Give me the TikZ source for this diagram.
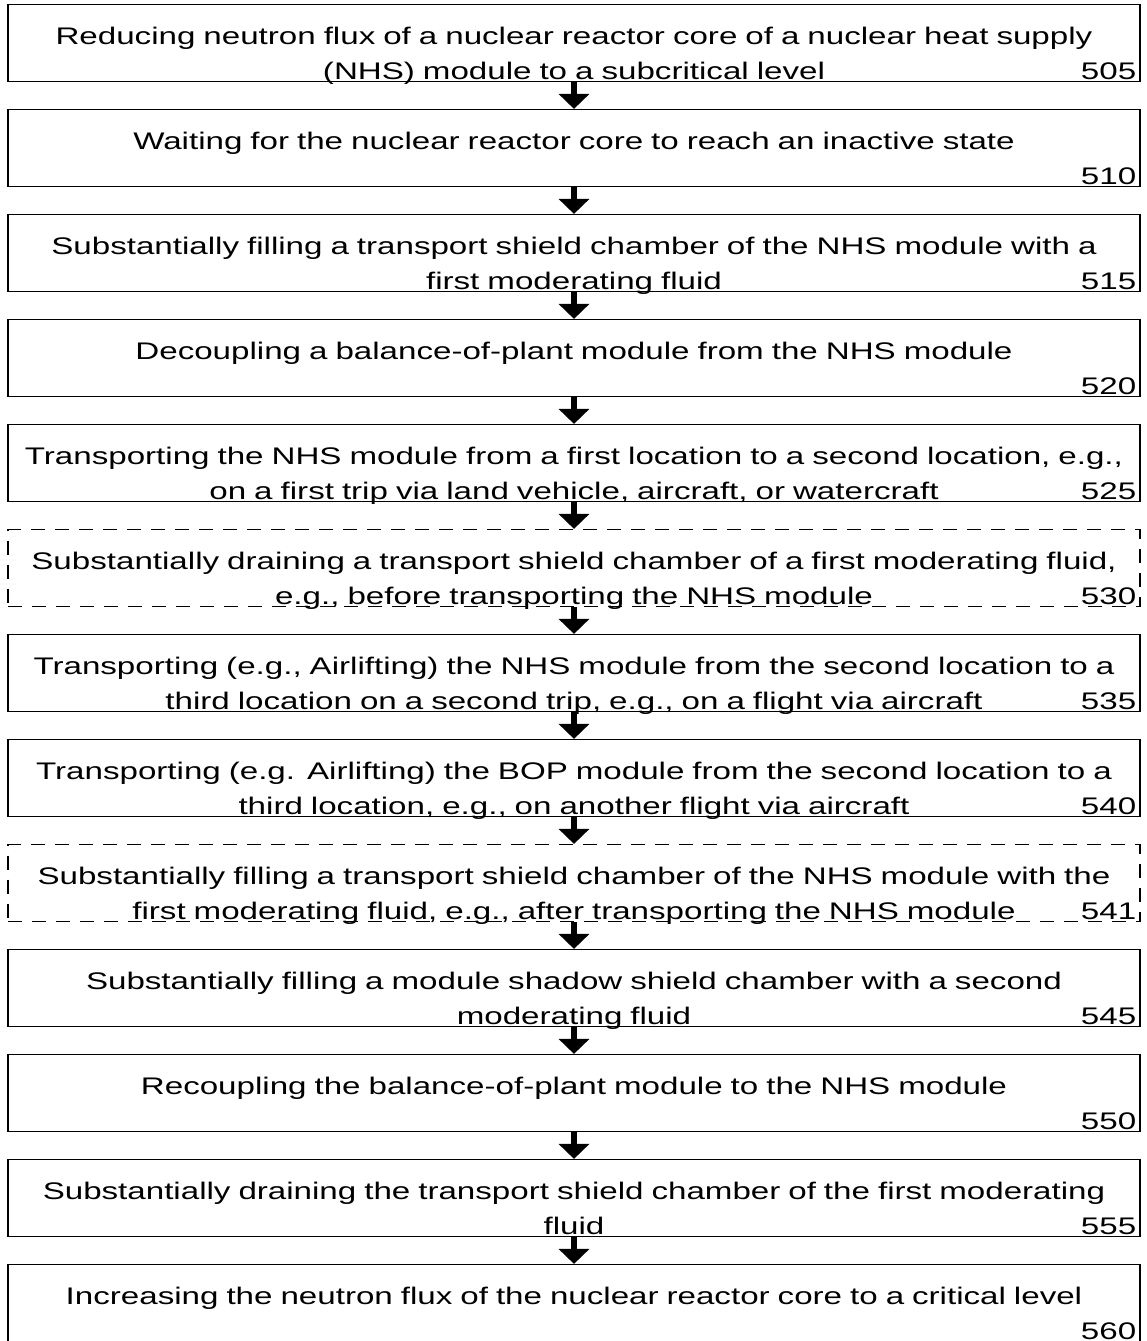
\documentclass[tikz,border=0pt]{standalone}
\usepackage{fontspec}
\setmainfont{Liberation Sans}[FakeStretch=1.38,WordSpace=1.6]
\usetikzlibrary{positioning,arrows.meta}

\tikzset{
  stepbox/.style={draw, line width=0.6pt, text width=566pt, inner xsep=0pt,
    inner ysep=1.25pt, align=center, text height=18.5pt, text depth=17.5pt,
    font=\fontsize{12}{17.5}\selectfont},
  optbox/.style={stepbox, dash pattern=on 7pt off 5pt},
  stepnum/.style={anchor=base east, inner sep=0pt,
    font=\fontsize{12}{17.5}\selectfont},
  flowarrow/.style={line width=3pt, -{Triangle[width=15pt,length=7.5pt]}}
}

\begin{document}
\begin{tikzpicture}[node distance=13.4pt]
  \useasboundingbox (0pt,0pt) rectangle (573.5pt,-670.5pt);

  % steps
  \node[stepbox] (s505) at (287pt,-21.5pt)
    {Reducing neutron flux of a nuclear reactor core of a nuclear heat supply\\(NHS) module to a subcritical level};
  \node[stepbox, below=of s505] (s510)
    {Waiting for the nuclear reactor core to reach an inactive state\\\mbox{}};
  \node[stepbox, below=of s510] (s515)
    {Substantially filling a transport shield chamber of the NHS module with a\\first moderating fluid};
  \node[stepbox, below=of s515] (s520)
    {Decoupling a balance-of-plant module from the NHS module\\\mbox{}};
  \node[stepbox, below=of s520] (s525)
    {Transporting the NHS module from a first location to a second location, e.g.,\\on a first trip via land vehicle, aircraft, or watercraft};
  \node[optbox, below=of s525] (s530)
    {Substantially draining a transport shield chamber of a first moderating fluid,\\e.g., before transporting the NHS module};
  \node[stepbox, below=of s530] (s535)
    {Transporting (e.g., Airlifting) the NHS module from the second location to a\\third location on a second trip, e.g., on a flight via aircraft};
  \node[stepbox, below=of s535] (s540)
    {Transporting (e.g. Airlifting) the BOP module from the second location to a\\third location, e.g., on another flight via aircraft};
  \node[optbox, below=of s540] (s541)
    {Substantially filling a transport shield chamber of the NHS module with the\\first moderating fluid, e.g., after transporting the NHS module};
  \node[stepbox, below=of s541] (s545)
    {Substantially filling a module shadow shield chamber with a second\\moderating fluid};
  \node[stepbox, below=of s545] (s550)
    {Recoupling the balance-of-plant module to the NHS module\\\mbox{}};
  \node[stepbox, below=of s550] (s555)
    {Substantially draining the transport shield chamber of the first moderating\\fluid};
  \node[stepbox, below=of s555] (s560)
    {Increasing the neutron flux of the nuclear reactor core to a critical level\\\mbox{}};

  % reference numbers
  \node[stepnum] (n505) at ([xshift=-2pt,yshift=1.25pt]s505.south east) {505};
  \node[stepnum] (n510) at ([xshift=-2pt,yshift=1.25pt]s510.south east) {510};
  \node[stepnum] (n515) at ([xshift=-2pt,yshift=1.25pt]s515.south east) {515};
  \node[stepnum] (n520) at ([xshift=-2pt,yshift=1.25pt]s520.south east) {520};
  \node[stepnum] (n525) at ([xshift=-2pt,yshift=1.25pt]s525.south east) {525};
  \node[stepnum] (n530) at ([xshift=-2pt,yshift=1.25pt]s530.south east) {530};
  \node[stepnum] (n535) at ([xshift=-2pt,yshift=1.25pt]s535.south east) {535};
  \node[stepnum] (n540) at ([xshift=-2pt,yshift=1.25pt]s540.south east) {540};
  \node[stepnum] (n541) at ([xshift=-2pt,yshift=1.25pt]s541.south east) {541};
  \node[stepnum] (n545) at ([xshift=-2pt,yshift=1.25pt]s545.south east) {545};
  \node[stepnum] (n550) at ([xshift=-2pt,yshift=1.25pt]s550.south east) {550};
  \node[stepnum] (n555) at ([xshift=-2pt,yshift=1.25pt]s555.south east) {555};
  \node[stepnum] (n560) at ([xshift=-2pt,yshift=1.25pt]s560.south east) {560};

  % arrows
  \draw[flowarrow] (s505) -- (s510);
  \draw[flowarrow] (s510) -- (s515);
  \draw[flowarrow] (s515) -- (s520);
  \draw[flowarrow] (s520) -- (s525);
  \draw[flowarrow] (s525) -- (s530);
  \draw[flowarrow] (s530) -- (s535);
  \draw[flowarrow] (s535) -- (s540);
  \draw[flowarrow] (s540) -- (s541);
  \draw[flowarrow] (s541) -- (s545);
  \draw[flowarrow] (s545) -- (s550);
  \draw[flowarrow] (s550) -- (s555);
  \draw[flowarrow] (s555) -- (s560);
\end{tikzpicture}
\end{document}
